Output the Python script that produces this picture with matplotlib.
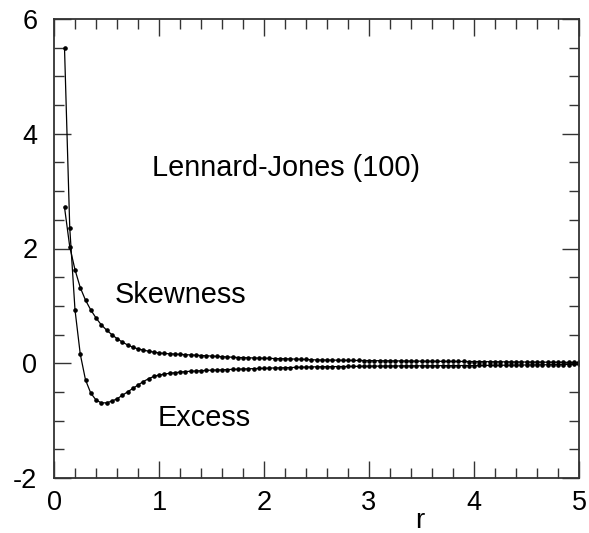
import matplotlib
matplotlib.use("Agg")
import matplotlib.pyplot as plt
from matplotlib.ticker import MultipleLocator

plt.rcParams['font.family'] = ['Liberation Sans', 'DejaVu Sans']
plt.rcParams['axes.unicode_minus'] = False

r_values = [0.10, 0.15, 0.20, 0.25, 0.30, 0.35, 0.40, 0.45, 0.50, 0.55,
            0.60, 0.65, 0.70, 0.75, 0.80, 0.85, 0.90, 0.95, 1.00, 1.05,
            1.10, 1.15, 1.20, 1.25, 1.30, 1.35, 1.40, 1.45, 1.50, 1.55,
            1.60, 1.65, 1.70, 1.75, 1.80, 1.85, 1.90, 1.95, 2.00, 2.05,
            2.10, 2.15, 2.20, 2.25, 2.30, 2.35, 2.40, 2.45, 2.50, 2.55,
            2.60, 2.65, 2.70, 2.75, 2.80, 2.85, 2.90, 2.95, 3.00, 3.05,
            3.10, 3.15, 3.20, 3.25, 3.30, 3.35, 3.40, 3.45, 3.50, 3.55,
            3.60, 3.65, 3.70, 3.75, 3.80, 3.85, 3.90, 3.95, 4.00, 4.05,
            4.10, 4.15, 4.20, 4.25, 4.30, 4.35, 4.40, 4.45, 4.50, 4.55,
            4.60, 4.65, 4.70, 4.75, 4.80, 4.85, 4.90, 4.95, 5.00]

skewness = [2.72, 2.03, 1.63, 1.32, 1.10, 0.93, 0.79, 0.67, 0.58, 0.50,
            0.43, 0.37, 0.32, 0.28, 0.25, 0.23, 0.21, 0.195, 0.18, 0.17,
            0.165, 0.16, 0.155, 0.15, 0.145, 0.14, 0.135, 0.13, 0.125, 0.12,
            0.115, 0.11, 0.105, 0.10, 0.098, 0.095, 0.092, 0.09, 0.087, 0.085,
            0.082, 0.08, 0.078, 0.075, 0.072, 0.07, 0.066, 0.062, 0.058, 0.057,
            0.056, 0.055, 0.053, 0.052, 0.05, 0.049, 0.048, 0.047, 0.046, 0.045,
            0.044, 0.043, 0.042, 0.041, 0.04, 0.039, 0.038, 0.037, 0.036, 0.035,
            0.035, 0.034, 0.033, 0.033, 0.032, 0.031, 0.031, 0.030, 0.030, 0.029,
            0.028, 0.027, 0.026, 0.025, 0.024, 0.023, 0.022, 0.022, 0.021, 0.020,
            0.020, 0.019, 0.018, 0.018, 0.017, 0.016, 0.016, 0.015, 0.015]

excess = [5.50, 2.36, 0.93, 0.16, -0.29, -0.52, -0.64, -0.69, -0.69, -0.66,
          -0.62, -0.56, -0.50, -0.44, -0.38, -0.32, -0.27, -0.23, -0.205, -0.19,
          -0.175, -0.165, -0.155, -0.145, -0.14, -0.135, -0.13, -0.125, -0.12, -0.118,
          -0.115, -0.11, -0.107, -0.104, -0.10, -0.097, -0.094, -0.091, -0.088, -0.085,
          -0.082, -0.08, -0.078, -0.075, -0.072, -0.07, -0.067, -0.064, -0.062, -0.061,
          -0.06, -0.059, -0.058, -0.057, -0.056, -0.055, -0.054, -0.052, -0.051, -0.05,
          -0.05, -0.049, -0.048, -0.048, -0.047, -0.046, -0.046, -0.045, -0.045, -0.044,
          -0.044, -0.043, -0.042, -0.042, -0.041, -0.041, -0.04, -0.04, -0.04, -0.039,
          -0.038, -0.037, -0.036, -0.035, -0.034, -0.033, -0.032, -0.031, -0.03, -0.029,
          -0.028, -0.027, -0.026, -0.025, -0.024, -0.023, -0.022, -0.021, -0.02]

fig = plt.figure(figsize=(5.89, 5.33), dpi=100)
ax = fig.add_axes([54/589, 55/533, 525/589, 459/533])

for series in (skewness, excess):
    ax.plot(r_values, series, color='black', lw=0.9, marker='o', ms=2.3,
            mfc='black', mec='black')

ax.set_xlim(0, 5)
ax.set_ylim(-2, 6)
ax.xaxis.set_major_locator(MultipleLocator(1))
ax.xaxis.set_minor_locator(MultipleLocator(0.2))
ax.yaxis.set_major_locator(MultipleLocator(2))
ax.yaxis.set_minor_locator(MultipleLocator(0.5))
ax.tick_params(which='both', direction='in', top=True, right=True,
               labelsize=19.5, color='#333333')
ax.tick_params(which='major', length=12.5, width=1.0)
ax.tick_params(which='minor', length=7.3, width=1.0)
ax.tick_params(axis='y', which='major', pad=12)
ax.tick_params(axis='x', which='major', pad=9)
for s in ax.spines.values():
    s.set_linewidth(1.3)
    s.set_color('#333333')

ax.text(0.933, 3.40, 'Lennard-Jones (100)', fontsize=20.8, va='center', ha='left')
ax.text(0.58, 1.19, 'Skewness', fontsize=20.8, va='center', ha='left')
ax.text(0.99, -0.95, 'Excess', fontsize=20.8, va='center', ha='left')
fig.text(420/589, 5/533, 'r', fontsize=20, ha='center', va='baseline')

fig.savefig('out.png', dpi=100)
